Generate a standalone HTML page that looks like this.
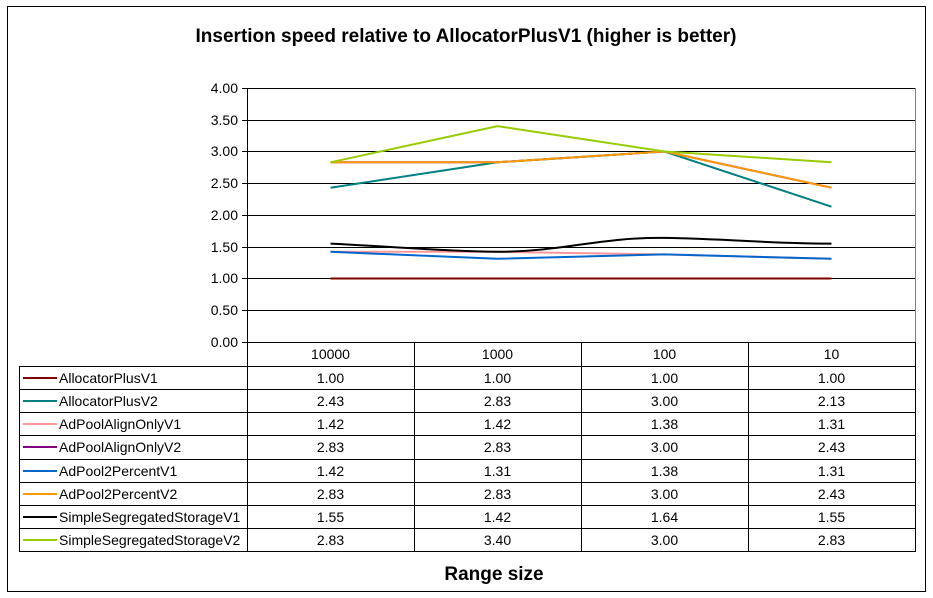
<!DOCTYPE html>
<html><head><meta charset="utf-8"><style>
html,body{margin:0;padding:0;background:#fff;}
svg{display:block;font-family:"Liberation Sans",Arial,sans-serif;}
</style></head><body>
<svg width="933" height="598" viewBox="0 0 933 598" xmlns="http://www.w3.org/2000/svg">
<rect x="7.5" y="6.5" width="918" height="585" fill="#fff" stroke="#000" stroke-width="1"/>
<text x="466" y="42" font-size="19" font-weight="bold" text-anchor="middle">Insertion speed relative to AllocatorPlusV1 (higher is better)</text>
<rect x="247.5" y="88.5" width="668" height="254" fill="#fff" stroke="#808080" stroke-width="1"/>
<g stroke="#000" stroke-width="1">
<line x1="247" y1="88.5" x2="915" y2="88.5"/>
<line x1="247" y1="120.5" x2="915" y2="120.5"/>
<line x1="247" y1="151.5" x2="915" y2="151.5"/>
<line x1="247" y1="183.5" x2="915" y2="183.5"/>
<line x1="247" y1="215.5" x2="915" y2="215.5"/>
<line x1="247" y1="247.5" x2="915" y2="247.5"/>
<line x1="247" y1="278.5" x2="915" y2="278.5"/>
<line x1="247" y1="310.5" x2="915" y2="310.5"/>
<line x1="247" y1="342.5" x2="915" y2="342.5"/>
<line x1="247.5" y1="88" x2="247.5" y2="342"/>
<g>
<line x1="242" y1="88.5" x2="247" y2="88.5"/><line x1="242" y1="120.5" x2="247" y2="120.5"/>
<line x1="242" y1="151.5" x2="247" y2="151.5"/><line x1="242" y1="183.5" x2="247" y2="183.5"/>
<line x1="242" y1="215.5" x2="247" y2="215.5"/><line x1="242" y1="247.5" x2="247" y2="247.5"/>
<line x1="242" y1="278.5" x2="247" y2="278.5"/><line x1="242" y1="310.5" x2="247" y2="310.5"/>
<line x1="242" y1="342.5" x2="247" y2="342.5"/>
</g>
</g>
<g font-size="14" text-anchor="end">
<text x="238" y="93">4.00</text><text x="238" y="125">3.50</text><text x="238" y="156">3.00</text>
<text x="238" y="188">2.50</text><text x="238" y="220">2.00</text><text x="238" y="252">1.50</text>
<text x="238" y="283">1.00</text><text x="238" y="315">0.50</text><text x="238" y="347">0.00</text>
</g>
<g fill="none" stroke-width="2">
<polyline stroke="#800000" points="330.5,278.5 497.5,278.5 664.5,278.5 831.5,278.5"/>
<polyline stroke="#800080" points="330.5,162.3 497.5,162.3 664.5,151.5 831.5,187.7"/>
<polyline stroke="#FF9999" points="330.5,251.8 497.5,251.8 664.5,254.4 831.5,258.8"/>
<polyline stroke="#0066CC" points="330.5,251.8 497.5,258.8 664.5,254.4 831.5,258.8"/>
<path stroke="#000" d="M330.5,243.6 C400,247 440,251 497.5,251.8 C560,252 600,237 664.5,237.9 C730,239 780,244 831.5,243.6"/>
<polyline stroke="#008080" points="330.5,187.7 497.5,162.3 664.5,151.5 831.5,206.7"/>
<polyline stroke="#FF9900" points="330.5,162.3 497.5,162.3 664.5,151.5 831.5,187.7"/>
<polyline stroke="#99CC00" points="330.5,162.3 497.5,126.1 664.5,151.5 831.5,162.3"/>
</g>
<g stroke="#000" stroke-width="1" fill="none">
<line x1="247.5" y1="342" x2="247.5" y2="551"/>
<line x1="414.5" y1="342" x2="414.5" y2="551"/>
<line x1="581.5" y1="342" x2="581.5" y2="551"/>
<line x1="748.5" y1="342" x2="748.5" y2="551"/>
<line x1="915.5" y1="342" x2="915.5" y2="551"/>
<line x1="19.5" y1="366" x2="19.5" y2="551"/>
<line x1="19" y1="366.5" x2="916" y2="366.5"/>
<line x1="19" y1="389.5" x2="916" y2="389.5"/>
<line x1="19" y1="412.5" x2="916" y2="412.5"/>
<line x1="19" y1="435.5" x2="916" y2="435.5"/>
<line x1="19" y1="459.5" x2="916" y2="459.5"/>
<line x1="19" y1="482.5" x2="916" y2="482.5"/>
<line x1="19" y1="505.5" x2="916" y2="505.5"/>
<line x1="19" y1="528.5" x2="916" y2="528.5"/>
<line x1="19" y1="551.5" x2="916" y2="551.5"/>
</g>
<g font-size="14" text-anchor="middle">
<text x="330.5" y="359">10000</text><text x="497.5" y="359">1000</text><text x="664.5" y="359">100</text><text x="831.5" y="359">10</text>
</g>
<g stroke-width="2">
<line x1="23" y1="378" x2="57" y2="378" stroke="#800000"/>
<line x1="23" y1="401" x2="57" y2="401" stroke="#008080"/>
<line x1="23" y1="424" x2="57" y2="424" stroke="#FF9999"/>
<line x1="23" y1="447" x2="57" y2="447" stroke="#800080"/>
<line x1="23" y1="471" x2="57" y2="471" stroke="#0066CC"/>
<line x1="23" y1="494" x2="57" y2="494" stroke="#FF9900"/>
<line x1="23" y1="517" x2="57" y2="517" stroke="#000"/>
<line x1="23" y1="540" x2="57" y2="540" stroke="#99CC00"/>
</g>
<g font-size="14">
<text x="59" y="383">AllocatorPlusV1</text>
<text x="59" y="406">AllocatorPlusV2</text>
<text x="59" y="429">AdPoolAlignOnlyV1</text>
<text x="59" y="452">AdPoolAlignOnlyV2</text>
<text x="59" y="476">AdPool2PercentV1</text>
<text x="59" y="499">AdPool2PercentV2</text>
<text x="59" y="522">SimpleSegregatedStorageV1</text>
<text x="59" y="545">SimpleSegregatedStorageV2</text>
</g>
<g font-size="14" text-anchor="middle">
<text x="330.5" y="383">1.00</text><text x="497.5" y="383">1.00</text><text x="664.5" y="383">1.00</text><text x="831.5" y="383">1.00</text>
<text x="330.5" y="406">2.43</text><text x="497.5" y="406">2.83</text><text x="664.5" y="406">3.00</text><text x="831.5" y="406">2.13</text>
<text x="330.5" y="429">1.42</text><text x="497.5" y="429">1.42</text><text x="664.5" y="429">1.38</text><text x="831.5" y="429">1.31</text>
<text x="330.5" y="452">2.83</text><text x="497.5" y="452">2.83</text><text x="664.5" y="452">3.00</text><text x="831.5" y="452">2.43</text>
<text x="330.5" y="476">1.42</text><text x="497.5" y="476">1.31</text><text x="664.5" y="476">1.38</text><text x="831.5" y="476">1.31</text>
<text x="330.5" y="499">2.83</text><text x="497.5" y="499">2.83</text><text x="664.5" y="499">3.00</text><text x="831.5" y="499">2.43</text>
<text x="330.5" y="522">1.55</text><text x="497.5" y="522">1.42</text><text x="664.5" y="522">1.64</text><text x="831.5" y="522">1.55</text>
<text x="330.5" y="545">2.83</text><text x="497.5" y="545">3.40</text><text x="664.5" y="545">3.00</text><text x="831.5" y="545">2.83</text>
</g>
<text x="494" y="580" font-size="19" font-weight="bold" text-anchor="middle">Range size</text>
</svg>
</body></html>
